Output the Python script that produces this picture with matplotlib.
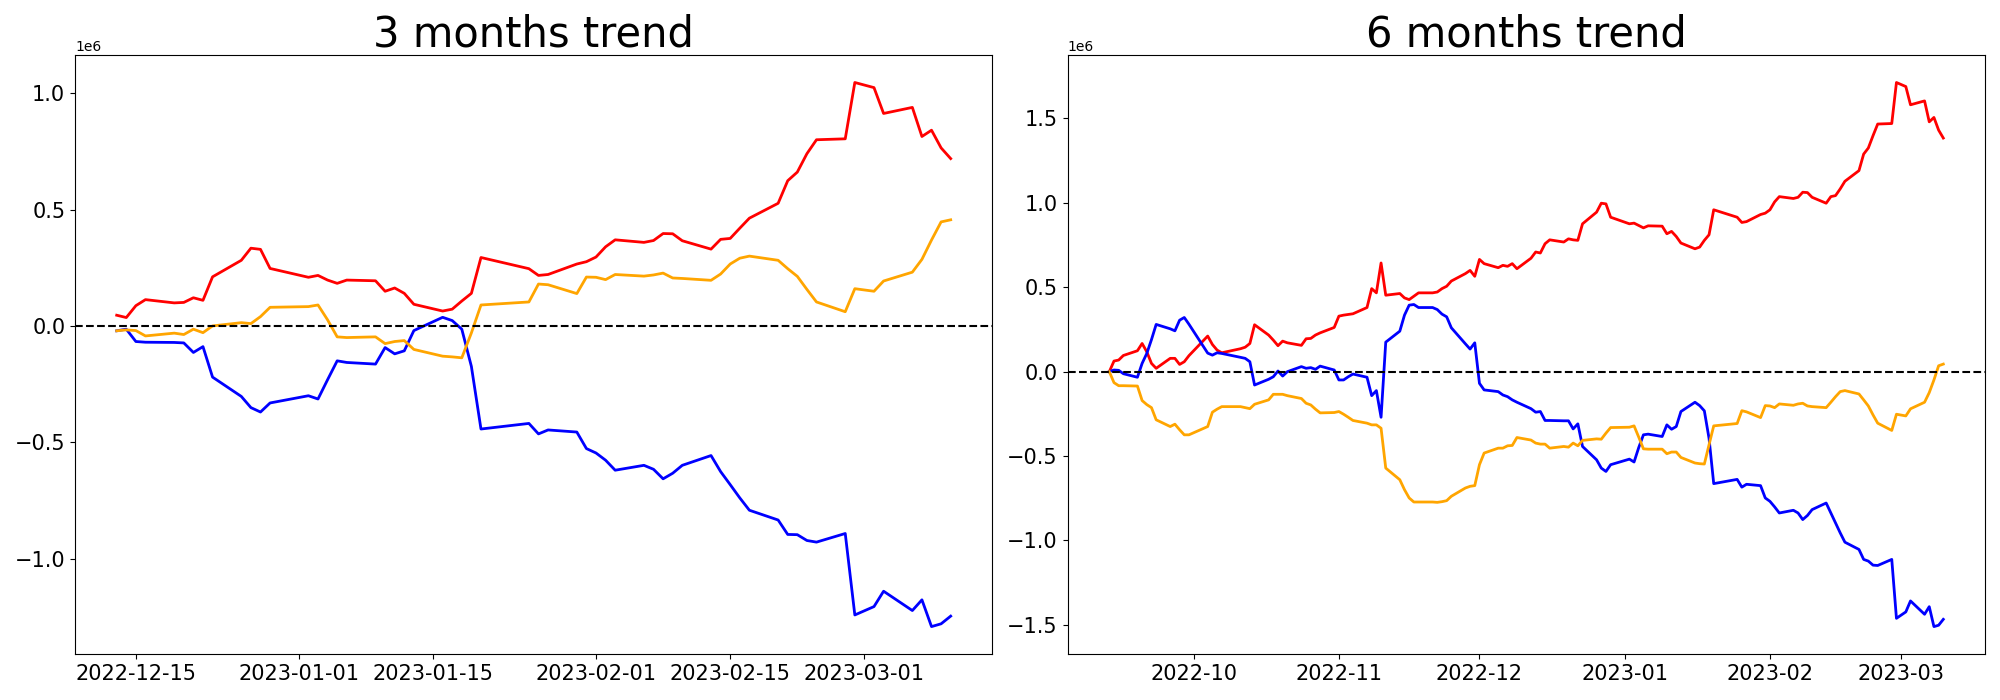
import numpy as np
import pandas as pd
import matplotlib
matplotlib.use("Agg")
import matplotlib.pyplot as plt

# KRX market holidays inside the plotted windows
krx_holidays = ["2022-10-03", "2022-10-10", "2022-12-30",
                "2023-01-23", "2023-01-24", "2023-03-01"]

# 3 months window (values in 1e6)
red_3m = [0.046, 0.036, 0.087, 0.113, 0.099, 0.101, 0.121, 0.110, 0.211, 0.282, 0.334, 0.329, 0.247,
          0.209, 0.217, 0.197, 0.183, 0.197, 0.194, 0.149, 0.163, 0.140, 0.093, 0.064, 0.072, 0.107, 0.140, 0.294,
          0.246, 0.217, 0.221, 0.266, 0.276,
          0.296, 0.340, 0.370, 0.359, 0.367, 0.397, 0.396, 0.366, 0.330, 0.372, 0.376, 0.420, 0.463, 0.527,
          0.624, 0.661, 0.740, 0.800, 0.804, 1.046,
          1.024, 0.913, 0.939, 0.814, 0.841, 0.765, 0.719]
orange_3m = [-0.021, -0.017, -0.020, -0.043, -0.031, -0.037, -0.014, -0.029, 0.000, 0.014, 0.010, 0.040, 0.080,
             0.083, 0.090, 0.026, -0.047, -0.050, -0.047, -0.076, -0.067, -0.063, -0.101, -0.130, -0.133, -0.137,
             -0.030, 0.090, 0.103, 0.180, 0.177, 0.139, 0.210,
             0.209, 0.199, 0.221, 0.214, 0.219, 0.227, 0.206, 0.204, 0.196, 0.223, 0.266, 0.291, 0.300, 0.282,
             0.246, 0.213, 0.157, 0.103, 0.061, 0.160,
             0.149, 0.193, 0.231, 0.286, 0.369, 0.447, 0.456]
blue_3m = [-0.021, -0.014, -0.067, -0.070, -0.071, -0.073, -0.114, -0.089, -0.220, -0.303, -0.351, -0.370, -0.331,
           -0.300, -0.314, -0.231, -0.150, -0.157, -0.164, -0.093, -0.120, -0.107, -0.020, 0.037, 0.023, -0.014,
           -0.174, -0.443, -0.419, -0.464, -0.447, -0.456, -0.527,
           -0.546, -0.577, -0.620, -0.599, -0.616, -0.657, -0.633, -0.599, -0.557, -0.626, -0.682, -0.739, -0.792,
           -0.834, -0.896, -0.897, -0.922, -0.929, -0.892, -1.242,
           -1.206, -1.140, -1.223, -1.177, -1.292, -1.280, -1.247]

# 6 months window (values in 1e6)
red_6m = [0.000, 0.063, 0.069, 0.096, 0.124, 0.167, 0.118, 0.049, 0.020, 0.079, 0.079, 0.043, 0.059, 0.095,
          0.211, 0.161, 0.128, 0.112, 0.136, 0.145, 0.167, 0.278, 0.217, 0.187, 0.154, 0.181, 0.171, 0.156, 0.195,
          0.197, 0.217, 0.230, 0.262,
          0.329, 0.335, 0.339, 0.343, 0.380, 0.492, 0.467, 0.644, 0.453, 0.463, 0.437, 0.427, 0.447, 0.467, 0.467,
          0.472, 0.492, 0.506, 0.537, 0.581, 0.600, 0.565,
          0.665, 0.640, 0.616, 0.630, 0.624, 0.640, 0.610, 0.672, 0.709, 0.703, 0.758, 0.781, 0.768, 0.787, 0.781,
          0.778, 0.876, 0.945, 0.998, 0.994, 0.915,
          0.876, 0.880, 0.866, 0.852, 0.864, 0.862, 0.817, 0.831, 0.801, 0.762, 0.728, 0.738, 0.778, 0.811, 0.959,
          0.915, 0.884, 0.889, 0.931, 0.939,
          0.959, 1.006, 1.037, 1.026, 1.033, 1.063, 1.061, 1.033, 0.998, 1.037, 1.043, 1.083, 1.128, 1.191, 1.289,
          1.325, 1.398, 1.467, 1.470, 1.713,
          1.689, 1.581, 1.604, 1.480, 1.506, 1.431, 1.384]
orange_6m = [0.000, -0.065, -0.083, -0.083, -0.085, -0.171, -0.195, -0.213, -0.285, -0.325, -0.311, -0.344, -0.374, -0.374,
             -0.325, -0.240, -0.222, -0.207, -0.207, -0.213, -0.219, -0.193, -0.167, -0.134, -0.134, -0.134, -0.142,
             -0.159, -0.187, -0.197, -0.222, -0.244, -0.242,
             -0.236, -0.252, -0.270, -0.289, -0.305, -0.315, -0.315, -0.335, -0.571, -0.640, -0.699, -0.748, -0.772,
             -0.772, -0.772, -0.774, -0.770, -0.764, -0.738, -0.689, -0.679, -0.675,
             -0.551, -0.482, -0.453, -0.453, -0.439, -0.437, -0.390, -0.405, -0.423, -0.429, -0.429, -0.453, -0.443,
             -0.447, -0.423, -0.439, -0.407, -0.398, -0.400, -0.364, -0.331,
             -0.329, -0.321, -0.388, -0.457, -0.459, -0.459, -0.486, -0.476, -0.476, -0.508, -0.541, -0.545, -0.547,
             -0.433, -0.321, -0.307, -0.231, -0.238, -0.272, -0.201,
             -0.203, -0.213, -0.191, -0.199, -0.191, -0.187, -0.203, -0.207, -0.213, -0.181, -0.148, -0.118, -0.112,
             -0.132, -0.167, -0.203, -0.256, -0.305, -0.348, -0.252,
             -0.262, -0.220, -0.181, -0.124, -0.049, 0.035, 0.045]
blue_6m = [0.000, 0.010, 0.008, -0.012, -0.033, 0.049, 0.108, 0.190, 0.280, 0.254, 0.242, 0.305, 0.321, 0.281,
           0.110, 0.098, 0.112, 0.108, 0.085, 0.079, 0.059, -0.079, -0.045, -0.030, 0.004, -0.026, 0.000, 0.030,
           0.020, 0.024, 0.014, 0.033, 0.010,
           -0.049, -0.049, -0.030, -0.014, -0.033, -0.142, -0.112, -0.270, 0.175, 0.240, 0.335, 0.394, 0.398, 0.380,
           0.380, 0.368, 0.341, 0.325, 0.260, 0.165, 0.134, 0.171,
           -0.069, -0.108, -0.118, -0.138, -0.148, -0.167, -0.181, -0.219, -0.240, -0.236, -0.289, -0.289, -0.291,
           -0.291, -0.339, -0.309, -0.443, -0.522, -0.571, -0.591, -0.551,
           -0.518, -0.535, -0.449, -0.374, -0.370, -0.384, -0.315, -0.341, -0.325, -0.236, -0.181, -0.201, -0.232,
           -0.395, -0.663, -0.638, -0.684, -0.667, -0.675, -0.748,
           -0.768, -0.801, -0.837, -0.821, -0.837, -0.876, -0.852, -0.817, -0.778, -0.837, -0.896, -0.955, -1.010,
           -1.053, -1.112, -1.122, -1.146, -1.148, -1.112, -1.461,
           -1.423, -1.358, -1.437, -1.392, -1.510, -1.502, -1.467]


def trading_days(start, end):
    return pd.bdate_range(start, end, freq="C", holidays=krx_holidays)


def plot_trend(ax, dates, red, orange, blue, title):
    ax.plot(dates, np.array(red) * 1e6, color="red", linewidth=2)
    ax.plot(dates, np.array(blue) * 1e6, color="blue", linewidth=2)
    ax.plot(dates, np.array(orange) * 1e6, color="orange", linewidth=2)
    ax.axhline(0, color="black", linestyle="--", linewidth=1.5)
    ax.set_title(title, fontsize=30)
    ax.tick_params(axis="both", labelsize=15)


if __name__ == "__main__":
    dates_3m = trading_days("2022-12-13", "2023-03-10")
    dates_6m = trading_days("2022-09-13", "2023-03-10")

    fig, (ax1, ax2) = plt.subplots(1, 2, figsize=(20, 7), dpi=100)
    plot_trend(ax1, dates_3m, red_3m, orange_3m, blue_3m, "3 months trend")
    plot_trend(ax2, dates_6m, red_6m, orange_6m, blue_6m, "6 months trend")
    plt.subplots_adjust(left=0.0375, right=0.9925, bottom=0.066, top=0.921, wspace=0.082)
    plt.savefig("out.png")
